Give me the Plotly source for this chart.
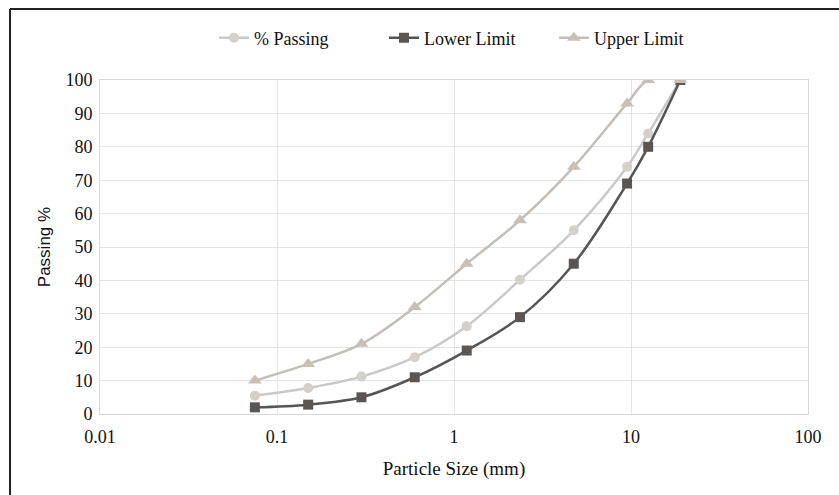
import plotly.graph_objects as go

sizes = [0.075, 0.15, 0.3, 0.6, 1.18, 2.36, 4.75, 9.5, 12.5, 19]
passing = [5.5, 7.8, 11.2, 17, 26.3, 40.2, 55, 74, 84, 100]
lower = [2, 2.8, 5, 11, 19, 29, 45, 69, 80, 100]
upper = [10, 15, 21, 32, 45, 58, 74, 93, 100, 100]

serif = "Liberation Serif"
fig = go.Figure()
fig.add_trace(go.Scatter(x=sizes, y=passing, name="% Passing", mode="lines+markers",
                         line=dict(color="#c9c9c9", width=2.5, shape="spline"),
                         marker=dict(symbol="circle", size=10, color="#d4d0cc")))
fig.add_trace(go.Scatter(x=sizes, y=lower, name="Lower Limit", mode="lines+markers",
                         line=dict(color="#555555", width=2.5, shape="spline"),
                         marker=dict(symbol="square", size=10, color="#5a5654")))
fig.add_trace(go.Scatter(x=sizes, y=upper, name="Upper Limit", mode="lines+markers",
                         line=dict(color="#c3beb9", width=2.5, shape="spline"),
                         marker=dict(symbol="triangle-up", size=12, color="#c8c0b6")))

fig.update_layout(
    width=839, height=495,
    margin=dict(l=100, r=31, t=80, b=81, autoexpand=False),
    paper_bgcolor="white", plot_bgcolor="white",
    font=dict(family=serif, size=18, color="#111111"),
    showlegend=True,
    legend=dict(orientation="h", x=0.161, xanchor="left", y=1.1257, yanchor="middle",
                bgcolor="rgba(0,0,0,0)",
                font=dict(family=serif, size=18), entrywidth=125, entrywidthmode="pixels"),
    xaxis=dict(type="log", range=[-2, 2], tickvals=[0.01, 0.1, 1, 10, 100],
               ticktext=["0.01", "0.1", "1", "10", "100"],
               showgrid=True, gridcolor="#e4e4e4", gridwidth=1,
               showline=True, linecolor="#d9d9d9", mirror=True,
               ticks="outside", ticklen=6, tickcolor="rgba(0,0,0,0)",
               title=dict(text="Particle Size (mm)", font=dict(family=serif, size=19), standoff=16),
               zeroline=False),
    yaxis=dict(range=[0, 100], dtick=10, showgrid=True, gridcolor="#e4e4e4", gridwidth=1,
               showline=True, linecolor="#d9d9d9", mirror=True,
               ticks="outside", ticklen=3, tickcolor="rgba(0,0,0,0)",
               title=dict(text="Passing %", font=dict(family="Liberation Sans", size=17), standoff=10),
               zeroline=False),
)

# outer frame (top and left edges)
fig.add_shape(type="line", xref="paper", yref="paper", x0=-0.1271, x1=1.05, y0=1.2126, y1=1.2126,
              line=dict(color="#222222", width=2))
fig.add_shape(type="line", xref="paper", yref="paper", x0=-0.1271, x1=-0.1271, y0=1.2126, y1=-0.25,
              line=dict(color="#222222", width=2))

fig.write_html("out.html", config={"displayModeBar": False},
               post_script="document.body.style.margin='0';document.body.style.padding='0';")
